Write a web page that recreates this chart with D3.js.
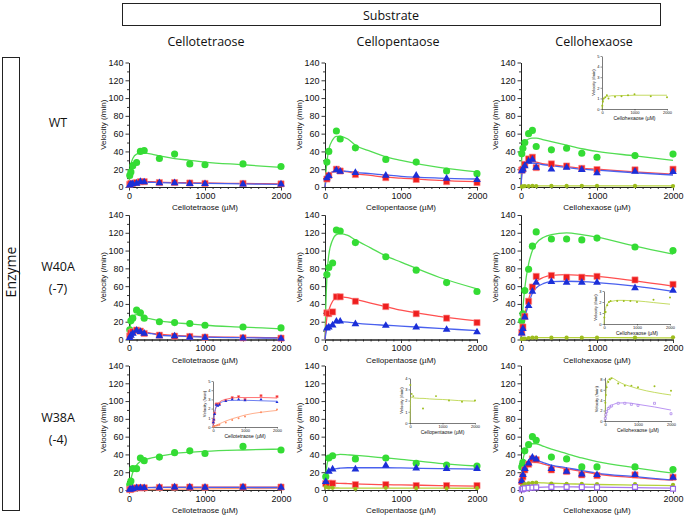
<!DOCTYPE html>
<html><head><meta charset="utf-8">
<script src="https://cdn.jsdelivr.net/npm/d3@7"></script>
<style>body{margin:0;background:#fff}svg{display:block}</style>
</head><body><svg id="c" width="686" height="518"></svg>
<script>
// ---------- labels ----------
const substrates = ["Cellotetraose", "Cellopentaose", "Cellohexaose"];
const enzymes = [["WT"], ["W40A", "(-7)"], ["W38A", "(-4)"]];
const xTicks = [0, 1000, 2000];
const yTicks = [0, 20, 40, 60, 80, 100, 120, 140];

// ---------- concentrations (µM) ----------
const concA = [10, 25, 50, 100, 150, 200, 400, 600, 800, 1000, 1500, 2000];
const concB = [25, 50, 100, 150, 200, 400, 800, 1200, 1600, 2000];
const concC = [10, 50, 100, 400, 800, 1200, 1600, 2000];
const fitX = [0, 10, 25, 50, 100, 150, 200, 300, 400, 600, 800, 1000, 1500, 2000];

// ---------- WT ----------
const wt4_green = [13, 17, 24, 27.5, 40, 41, 32, 37, 26, 25, 26, 23];
const wt4_red = [3, 4, 4, 5, 6, 6, 5, 5, 4.5, 4, 4, 3.5];
const wt4_blue = [2, 3, 3.5, 4, 6, 5.5, 4.5, 4.5, 3.5, 3.5, 3, 3];
const wt4_fitGreen = [0, 15, 25, 32, 37, 38, 38, 37, 35, 32, 30, 28, 25, 22];
const wt4_fitRed = [0, 2, 4, 5.5, 6, 6, 6, 6, 5.5, 5, 4.8, 4.5, 4, 3.6];
const wt4_fitBlue = [0, 2, 3.5, 5, 5.5, 5.5, 5.5, 5.2, 5, 4.6, 4.3, 4, 3.5, 3];

const wt5_green = [28, 40, null, 63, 54, 44, 31, 28, 18, 15];
const wt5_red = [9, 13, null, 20, 18, 14, 10.5, 8.5, 6, 5];
const wt5_blue = [10, 12.5, null, 19, 17.5, 16, 13, 13, 9.5, 8];
const wt5_fitGreen = [0, 14, 28, 42, 53, 57, 57, 54, 47, 40, 34, 30, 22, 17];
const wt5_fitRed = [0, 6, 10, 14, 17, 18, 18, 17, 15, 13, 11, 10, 7.5, 6];
const wt5_fitBlue = [0, 6, 10, 14, 17, 18, 18, 17.5, 16.5, 15, 13.5, 12, 10, 9];

const wt6_green = [37.5, 43.6, 50, 60, 63.6, 45.5, 41.8, 43.6, 38, 33.5, 35.3, 37];
const wt6_red = [19, 20, 25.5, 31.6, 33.5, 21.8, 26, 23.6, 21, 19.6, 19.3, 20];
const wt6_blue = [18, 20, 23.6, 29, 31, 21.8, 20, 21.8, 19.3, 15.6, 17.5, 17];
const wt6_olive = [0.3, 0.7, 1.0, 1.1, 1.3, 1.0, 1.15, 1.2, 1.3, 1.4, 1.2, 1.1];
const wt6_fitGreen = [0, 32, 45, 50, 54, 55, 55, 53, 51, 47, 43, 40, 35, 30];
const wt6_fitRed = [0, 14, 21, 25, 28, 28.5, 28, 26, 25, 23, 21, 20, 17, 14.5];
const wt6_fitBlue = [0, 13, 20, 24, 26.5, 27, 26.5, 25, 24, 22, 20, 19, 16, 13.5];
const wt6_fitOlive = [0, 0.4, 0.6, 0.9, 1.1, 1.2, 1.2, 1.25, 1.25, 1.27, 1.28, 1.3, 1.3, 1.3];

// ---------- W40A ----------
const w40_4_green = [11, 21, 24, 33, 30, 24, 20, 19, 18, 16, 14, 13];
const w40_4_red = [4, 7.5, 8.7, 10.6, 9.4, 6.8, 4.9, 3.8, 3.4, 2.6, 1.9, 1.5];
const w40_4_blue = [2, 4.5, 6.8, 10.2, 8.7, 6.8, 3.8, 3.8, 2.3, 1.9, 1.5, 1];
const w40_4_fitGreen = [0, 10, 20, 26, 28, 27, 25, 23, 21, 19, 17.5, 16, 14, 12];
const w40_4_fitRed = [0, 3, 6, 9, 10, 9.5, 8.5, 7, 6, 4.5, 3.8, 3.2, 2.5, 2];
const w40_4_fitBlue = [0, 2.5, 5, 8, 9.5, 9, 8, 6.5, 5, 4, 3.2, 2.6, 2, 1.5];

const w40_5_green = [73, 81, 86, 123, 122, 109, 93, 78, 64, 54];
const w40_5_red = [30, 29, 31, 48, 48, 43, 37, 29, 24, 19];
const w40_5_blue = [12.6, 13.7, 16, 20.4, 20.4, 17.4, 15.6, 13.7, 11.1, 8.3];
const w40_5_fitGreen = [0, 35, 70, 95, 112, 118, 119, 117, 112, 103, 94, 87, 70, 57];
const w40_5_fitRed = [0, 12, 25, 33, 43, 47, 48, 47, 45, 41, 37, 33, 26, 21];
const w40_5_fitBlue = [0, 6, 12, 15, 18, 19.5, 20, 19.5, 18.5, 17, 16, 15, 12.5, 10];

const w40_6_green = [21, 29, 55, 79, 105, 121, 113, 113, 112, 114, 104, 100];
const w40_6_red = [8, 14, 26, 43, 59, 71, 72, 70, 70, 71, 67, 62];
const w40_6_blue = [7, 12, 25, 38, 54, 64, 65, 64, 64, 64, 58, 55];
const w40_6_olive = [0.6, 1.1, 1.1, 1.7, 2.0, 2.1, 2.1, 2.1, 2.1, 2.0, 2.2, 2.4];
const w40_6_fitGreen = [0, 18, 35, 58, 85, 100, 108, 115, 118, 120, 118, 115, 105, 96];
const w40_6_fitRed = [0, 7, 15, 28, 45, 58, 65, 70, 72, 73, 72, 71, 66, 60];
const w40_6_fitBlue = [0, 6, 12, 24, 40, 52, 58, 63, 65, 65.5, 65, 64, 60, 54];
const w40_6_fitOlive = [0, 0.6, 0.9, 1.4, 1.8, 2.0, 2.05, 2.1, 2.15, 2.15, 2.12, 2.1, 1.95, 1.8];

// ---------- W38A ----------
const w38_4_green = [6, 10, 24, 24, 36, 33, 37, 42, 44, 41, 49, 45];
const w38_4_red = [0.5, 0.8, 1.5, 2.5, 2.5, 2.5, 2.9, 3.2, 3.3, 3.0, 3.4, 3.3];
const w38_4_blue = [0.5, 0.8, 1.4, 2.4, 2.3, 2.4, 2.8, 3.0, 3.0, 2.9, 3.0, 2.7];
const w38_4_orange = [0.05, 0.05, 0.1, 0.15, 0.2, 0.25, 0.5, 0.75, 0.95, 1.15, 1.6, 1.9];
const w38_4_fitGreen = [0, 5, 12, 20, 28, 32, 34, 36, 38, 41, 42.5, 43.5, 45, 46];
const w38_4_fitRed = [0, 0.4, 0.9, 1.5, 2.2, 2.5, 2.7, 2.9, 3.0, 3.15, 3.2, 3.2, 3.2, 3.15];
const w38_4_fitBlue = [0, 0.4, 0.9, 1.5, 2.2, 2.5, 2.6, 2.75, 2.85, 2.9, 2.9, 2.9, 2.85, 2.8];
const w38_4_fitOrange = [0, 0.02, 0.05, 0.1, 0.2, 0.28, 0.35, 0.5, 0.65, 0.9, 1.1, 1.3, 1.6, 1.8];

const w38_5_green = [15, 36, 38.5, 35, 36, 30, 28, 27];
const w38_5_blue = [9.4, 20.8, 23.4, 23.4, 27.5, 24.5, 23.8, 23.8];
const w38_5_red = [7.2, 7.5, 7.5, 6, 6, 5, 5, 5];
const w38_5_olive = [3.4, 2.6, 2.4, 1.3, 2.4, 2.0, 1.9, 2.0];
const w38_5_fitGreen = [0, 15, 28, 35, 38.5, 39.5, 40, 39.5, 39, 37.5, 36, 34.5, 30, 27];
const w38_5_fitBlue = [0, 9, 16, 21, 23, 24, 24.5, 25, 25, 25, 25, 24.8, 24, 23.5];
const w38_5_fitRed = [0, 7, 8, 8, 7.8, 7.6, 7.5, 7.2, 6.8, 6.3, 6, 5.7, 5, 4.3];
const w38_5_fitOlive = [0, 1.5, 2.3, 2.3, 2.25, 2.23, 2.22, 2.2, 2.2, 2.15, 2.12, 2.1, 2.0, 1.95];

const w38_6_green = [26, 31, 44, 51, 60, 56, 37, 35, 26, 26, 26, 23];
const w38_6_red = [9.4, 15, 22.6, 29, 35, 34, 22.6, 20.8, 17, 16.2, 17, 14.3];
const w38_6_blue = [10.2, 17, 23.8, 30.2, 36.6, 34.7, 23.8, 20.8, 17.7, 17, 17, 14];
const w38_6_olive = [3.5, 5, 6.5, 7.5, 8, 8.2, 7.2, 6.8, 6.8, 6.5, 6.7, 5.8];
const w38_6_purple = [0.5, 1.2, 1.8, 2.4, 2.7, 2.9, 3.4, 3.4, 3.2, 3.0, 3.4, 1.4];
const w38_6_fitGreen = [0, 20, 33, 42, 50, 52, 52, 49, 46, 41, 36, 32, 25, 19];
const w38_6_fitRed = [0, 8, 15, 23, 29, 31, 31, 29, 27, 24, 21, 18, 14, 11];
const w38_6_fitBlue = [0, 8, 16, 24, 31, 33, 33, 30.5, 28, 25, 22, 19, 15, 11];
const w38_6_fitOlive = [0, 3, 5, 7, 8, 8.2, 8.3, 8.0, 7.6, 7.0, 6.6, 6.2, 5.5, 5.0];
const w38_6_fitPurple = [0, 0.4, 0.9, 1.6, 2.4, 2.8, 3.0, 3.3, 3.45, 3.5, 3.4, 3.2, 2.7, 2.1];

// ---------- styles ----------
const styles = {
  green:  {fill: "#34dc34", stroke: "none", line: "#52dd52", shape: d3.symbolCircle, size: 40, iSize: 5},
  red:    {fill: "#ee1f1f", stroke: "#ff8a8a", line: "#ff4f4f", shape: d3.symbolSquare, size: 38, iSize: 5},
  blue:   {fill: "#1b2fd8", stroke: "none", line: "#4960ee", shape: d3.symbolTriangle, size: 26, iSize: 4},
  olive:  {fill: "#9dbd1d", stroke: "none", line: "#b5d23b", shape: d3.symbolCircle, size: 14, iSize: 3},
  purple: {fill: "#fff", stroke: "#9a6ae8", line: "#a878f0", shape: d3.symbolSquare, size: 24, iSize: 4},
  orange: {fill: "#ff8a60", stroke: "none", line: "#ff9a70", shape: d3.symbolCircle, size: 6, iSize: 3}
};

// ---------- panel table ----------
const panels = [
  {r: 0, c: 0, xs: concA, s: [["green", wt4_green, wt4_fitGreen], ["red", wt4_red, wt4_fitRed], ["blue", wt4_blue, wt4_fitBlue]]},
  {r: 0, c: 1, xs: concB, s: [["green", wt5_green, wt5_fitGreen], ["red", wt5_red, wt5_fitRed], ["blue", wt5_blue, wt5_fitBlue]]},
  {r: 0, c: 2, xs: concA, s: [["green", wt6_green, wt6_fitGreen], ["red", wt6_red, wt6_fitRed], ["blue", wt6_blue, wt6_fitBlue], ["olive", wt6_olive, wt6_fitOlive]]},
  {r: 1, c: 0, xs: concA, s: [["green", w40_4_green, w40_4_fitGreen], ["red", w40_4_red, w40_4_fitRed], ["blue", w40_4_blue, w40_4_fitBlue]]},
  {r: 1, c: 1, xs: concB, s: [["green", w40_5_green, w40_5_fitGreen], ["red", w40_5_red, w40_5_fitRed], ["blue", w40_5_blue, w40_5_fitBlue]]},
  {r: 1, c: 2, xs: concA, s: [["green", w40_6_green, w40_6_fitGreen], ["red", w40_6_red, w40_6_fitRed], ["blue", w40_6_blue, w40_6_fitBlue], ["olive", w40_6_olive, w40_6_fitOlive]]},
  {r: 2, c: 0, xs: concA, s: [["green", w38_4_green, w38_4_fitGreen], ["orange", w38_4_orange, w38_4_fitOrange], ["red", w38_4_red, w38_4_fitRed], ["blue", w38_4_blue, w38_4_fitBlue]]},
  {r: 2, c: 1, xs: concC, s: [["green", w38_5_green, w38_5_fitGreen], ["red", w38_5_red, w38_5_fitRed], ["blue", w38_5_blue, w38_5_fitBlue], ["olive", w38_5_olive, w38_5_fitOlive]]},
  {r: 2, c: 2, xs: concA, s: [["green", w38_6_green, w38_6_fitGreen], ["red", w38_6_red, w38_6_fitRed], ["blue", w38_6_blue, w38_6_fitBlue], ["olive", w38_6_olive, w38_6_fitOlive], ["purple", w38_6_purple, w38_6_fitPurple]]}
];
const insets = [
  {r: 0, c: 2, L: 602, R: 667, B: 109, ymax: 5, yt: [0, 1, 2, 3, 4, 5], uh: 10.6, s: [["olive", wt6_olive, wt6_fitOlive]], xs: concA},
  {r: 1, c: 2, L: 604, R: 670, B: 324, ymax: 3, yt: [0, 1, 2, 3], uh: 11, s: [["olive", w40_6_olive, w40_6_fitOlive]], xs: concA},
  {r: 2, c: 0, L: 213, R: 277, B: 427, ymax: 5, yt: [0, 1, 2, 3, 4, 5], uh: 9.2, s: [["orange", w38_4_orange, w38_4_fitOrange], ["red", w38_4_red, w38_4_fitRed], ["blue", w38_4_blue, w38_4_fitBlue]], xs: concA},
  {r: 2, c: 1, L: 410, R: 475, B: 423, ymax: 4, yt: [0, 1, 2, 3, 4], uh: 11.2, s: [["olive", w38_5_olive, w38_5_fitOlive]], xs: concC},
  {r: 2, c: 2, L: 605, R: 671, B: 421, ymax: 8.4, yt: [0, 2, 4, 6, 8], uh: 5.2, s: [["olive", w38_6_olive, w38_6_fitOlive], ["purple", w38_6_purple, w38_6_fitPurple]], xs: concA}
];

// ---------- layout ----------
const colX0 = [129, 325, 521];
const plotW = 152;
const rowY0 = [187, 339.5, 490];
const plotH = 124.5;
const fAx = "'Liberation Sans', Arial, sans-serif";
const fHd = "'Open Sans', 'Noto Sans', sans-serif";
const fmt = d3.format("d");
const svg = d3.select("#c");

// header box
svg.append("rect").attr("x", 122.5).attr("y", 3.5).attr("width", 538).attr("height", 22)
  .attr("fill", "none").attr("stroke", "#222").attr("stroke-width", 1);
svg.append("text").attr("x", 391).attr("y", 19.5).attr("text-anchor", "middle")
  .style("font", `12.5px ${fHd}`).attr("fill", "#111").text("Substrate");
const headX = [206, 398, 594];
substrates.forEach((s, i) => svg.append("text").attr("x", headX[i]).attr("y", 46)
  .attr("text-anchor", "middle").style("font", `12.5px ${fHd}`).attr("fill", "#111").text(s));

// enzyme box
svg.append("rect").attr("x", 2.5).attr("y", 57.5).attr("width", 17).attr("height", 453)
  .attr("fill", "none").attr("stroke", "#222").attr("stroke-width", 1);
svg.append("text").attr("transform", "translate(15.5,272) rotate(-90)").attr("text-anchor", "middle")
  .style("font", `14px ${fHd}`).attr("fill", "#111").text("Enzyme");
const labY = [122, 277, 428];
enzymes.forEach((lines, i) => {
  lines.forEach((t, j) => svg.append("text").attr("x", 58).attr("y", labY[i] + j * 22 - (lines.length - 1) * 11 + 4.5)
    .attr("text-anchor", "middle").style("font", `12.5px ${fHd}`).attr("fill", "#111").text(t));
});

function axisStyle(g, fs) {
  g.selectAll("path.domain").attr("stroke", "#222").attr("stroke-width", 1);
  g.selectAll("line").attr("stroke", "#222").attr("stroke-width", 0.9);
  g.selectAll("text").style("font", `${fs}px ${fAx}`).attr("fill", "#111");
}

function drawSeries(g, x, y, xs, s, small) {
  s.forEach(([k, pts, fit]) => {
    const st = styles[k];
    g.append("path").datum(fitX.map((v, i) => [v, fit[i]]))
      .attr("d", d3.line().x(d => x(d[0])).y(d => y(d[1])).curve(d3.curveMonotoneX))
      .attr("fill", "none").attr("stroke", st.line).attr("stroke-width", small ? 0.8 : 1.3);
  });
  s.forEach(([k, pts]) => {
    const st = styles[k];
    const sym = d3.symbol().type(st.shape).size(small ? st.iSize : st.size);
    g.selectAll(null).data(xs.map((v, i) => [v, pts[i]]).filter(d => d[1] != null)).enter()
      .append("path").attr("d", sym)
      .attr("transform", d => `translate(${x(d[0])},${y(d[1])})`)
      .attr("fill", st.fill).attr("stroke", st.stroke)
      .attr("stroke-width", k === "purple" ? (small ? 0.6 : 1.2) : 0.6);
  });
}

panels.forEach(p => {
  const x0 = colX0[p.c], y0 = rowY0[p.r];
  const x = d3.scaleLinear().domain([0, 2000]).range([x0, x0 + plotW]);
  const y = d3.scaleLinear().domain([0, 140]).range([y0, y0 - plotH]);
  const g = svg.append("g");
  const gyMin = g.append("g").attr("transform", `translate(${x0},0)`)
    .call(d3.axisLeft(y).tickValues(d3.range(10, 140, 20)).tickSize(2).tickFormat("").tickSizeOuter(0));
  axisStyle(gyMin, 9);
  const gxMin = g.append("g").attr("transform", `translate(0,${y0})`)
    .call(d3.axisBottom(x).tickValues(d3.range(100, 2000, 100).filter(v => v % 1000)).tickSize(2).tickFormat("").tickSizeOuter(0));
  axisStyle(gxMin, 9);
  const gy = g.append("g").attr("transform", `translate(${x0},0)`)
    .call(d3.axisLeft(y).tickValues(yTicks).tickFormat(fmt).tickSize(3.5).tickPadding(2).tickSizeOuter(0));
  axisStyle(gy, 9);
  const gx = g.append("g").attr("transform", `translate(0,${y0})`)
    .call(d3.axisBottom(x).tickValues(xTicks).tickFormat(fmt).tickSize(3.5).tickPadding(2).tickSizeOuter(0));
  axisStyle(gx, 9);
  g.append("text").attr("transform", `translate(${x0 - 23},${y0 - plotH / 2}) rotate(-90)`)
    .attr("text-anchor", "middle").style("font", `8px ${fAx}`).attr("fill", "#111").text("Velocity (/min)");
  g.append("text").attr("x", x0 + plotW / 2).attr("y", y0 + 23).attr("text-anchor", "middle")
    .style("font", `8px ${fAx}`).attr("fill", "#111").text(substrates[p.c] + " (µM)");
  drawSeries(g, x, y, p.xs, p.s, false);
});

insets.forEach(n => {
  const x = d3.scaleLinear().domain([0, 2000]).range([n.L, n.R]);
  const y = d3.scaleLinear().domain([0, n.ymax]).range([n.B, n.B - n.ymax * n.uh]);
  const g = svg.append("g");
  const gy = g.append("g").attr("transform", `translate(${n.L},0)`)
    .call(d3.axisLeft(y).tickValues(n.yt).tickFormat(fmt).tickSize(1.5).tickPadding(1).tickSizeOuter(0));
  axisStyle(gy, 4);
  const gx = g.append("g").attr("transform", `translate(0,${n.B})`)
    .call(d3.axisBottom(x).tickValues(xTicks).tickFormat(fmt).tickSize(1.5).tickPadding(1).tickSizeOuter(0));
  axisStyle(gx, 4);
  g.selectAll("path.domain").attr("stroke-width", 0.6);
  g.selectAll("line").attr("stroke-width", 0.5);
  g.append("text").attr("transform", `translate(${n.L - 7},${n.B - n.ymax * n.uh / 2}) rotate(-90)`)
    .attr("text-anchor", "middle").style("font", `4.2px ${fAx}`).attr("fill", "#111").text("Velocity (/min)");
  g.append("text").attr("x", (n.L + n.R) / 2).attr("y", n.B + 11).attr("text-anchor", "middle")
    .style("font", `5px ${fAx}`).attr("fill", "#111").text(substrates[n.c] + " (µM)");
  drawSeries(g, x, y, n.xs, n.s, true);
});
</script></body></html>
